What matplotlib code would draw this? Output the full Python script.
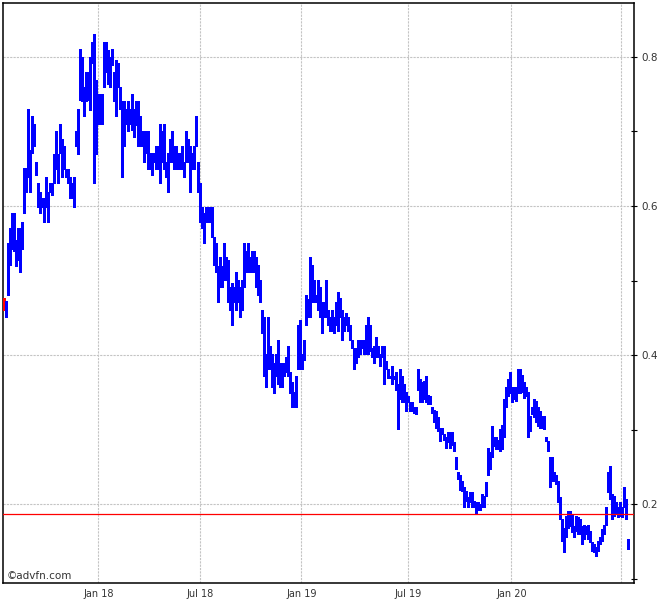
import numpy as np
import matplotlib
matplotlib.use('Agg')
import matplotlib.pyplot as plt

# bar highs / lows (oldest first)
highs = [
    0.476, 0.472, 0.551, 0.571, 0.591, 0.591, 0.555, 0.571, 0.571, 0.579,
    0.651, 0.651, 0.730, 0.675, 0.721, 0.710, 0.659, 0.631, 0.619, 0.611,
    0.611, 0.639, 0.619, 0.631, 0.631, 0.670, 0.701, 0.670, 0.710, 0.690,
    0.680, 0.650, 0.650, 0.639, 0.631, 0.639, 0.701, 0.730, 0.811, 0.800,
    0.760, 0.780, 0.780, 0.800, 0.820, 0.831, 0.769, 0.750, 0.750, 0.750,
    0.820, 0.820, 0.809, 0.800, 0.811, 0.780, 0.796, 0.792, 0.760, 0.740,
    0.740, 0.730, 0.740, 0.730, 0.750, 0.730, 0.740, 0.740, 0.720, 0.700,
    0.700, 0.700, 0.700, 0.671, 0.671, 0.671, 0.680, 0.680, 0.710, 0.700,
    0.710, 0.659, 0.671, 0.690, 0.700, 0.680, 0.680, 0.671, 0.671, 0.680,
    0.659, 0.700, 0.690, 0.680, 0.671, 0.680, 0.720, 0.659, 0.631, 0.599,
    0.590, 0.599, 0.599, 0.599, 0.599, 0.559, 0.551, 0.519, 0.531, 0.519,
    0.551, 0.531, 0.528, 0.491, 0.497, 0.491, 0.511, 0.501, 0.491, 0.501,
    0.551, 0.539, 0.551, 0.531, 0.539, 0.539, 0.531, 0.521, 0.501, 0.461,
    0.451, 0.401, 0.451, 0.412, 0.401, 0.390, 0.401, 0.421, 0.390, 0.390,
    0.390, 0.397, 0.412, 0.377, 0.364, 0.351, 0.372, 0.441, 0.447, 0.401,
    0.421, 0.481, 0.475, 0.531, 0.521, 0.501, 0.481, 0.501, 0.491, 0.471,
    0.471, 0.501, 0.461, 0.451, 0.461, 0.451, 0.471, 0.485, 0.477, 0.461,
    0.451, 0.457, 0.451, 0.441, 0.421, 0.410, 0.410, 0.421, 0.421, 0.421,
    0.421, 0.441, 0.451, 0.441, 0.410, 0.412, 0.425, 0.412, 0.401, 0.412,
    0.412, 0.392, 0.381, 0.372, 0.385, 0.372, 0.377, 0.361, 0.381, 0.372,
    0.361, 0.351, 0.345, 0.337, 0.337, 0.331, 0.330, 0.381, 0.368, 0.364,
    0.365, 0.372, 0.347, 0.345, 0.331, 0.327, 0.325, 0.317, 0.303, 0.303,
    0.294, 0.290, 0.297, 0.297, 0.297, 0.283, 0.264, 0.243, 0.240, 0.231,
    0.223, 0.218, 0.210, 0.216, 0.216, 0.204, 0.203, 0.203, 0.200, 0.214,
    0.211, 0.230, 0.276, 0.270, 0.305, 0.291, 0.291, 0.287, 0.301, 0.307,
    0.341, 0.357, 0.368, 0.377, 0.357, 0.357, 0.357, 0.381, 0.381, 0.374,
    0.364, 0.357, 0.351, 0.318, 0.331, 0.341, 0.338, 0.331, 0.325, 0.318,
    0.318, 0.291, 0.285, 0.263, 0.263, 0.243, 0.240, 0.231, 0.210, 0.180,
    0.169, 0.184, 0.191, 0.191, 0.187, 0.171, 0.184, 0.183, 0.180, 0.171,
    0.173, 0.171, 0.173, 0.164, 0.149, 0.147, 0.143, 0.151, 0.157, 0.167,
    0.173, 0.196, 0.243, 0.251, 0.214, 0.211, 0.203, 0.197, 0.203, 0.196,
    0.223, 0.207, 0.153,
]
lows = [
    0.460, 0.451, 0.481, 0.521, 0.542, 0.539, 0.519, 0.528, 0.511, 0.542,
    0.591, 0.619, 0.639, 0.619, 0.671, 0.680, 0.641, 0.599, 0.591, 0.599,
    0.579, 0.599, 0.579, 0.619, 0.615, 0.631, 0.649, 0.631, 0.671, 0.639,
    0.649, 0.639, 0.631, 0.611, 0.611, 0.599, 0.680, 0.669, 0.742, 0.740,
    0.720, 0.740, 0.742, 0.729, 0.792, 0.631, 0.669, 0.710, 0.710, 0.710,
    0.760, 0.780, 0.763, 0.760, 0.789, 0.740, 0.720, 0.760, 0.730, 0.639,
    0.680, 0.710, 0.700, 0.710, 0.702, 0.692, 0.709, 0.680, 0.680, 0.680,
    0.659, 0.671, 0.649, 0.649, 0.641, 0.659, 0.650, 0.650, 0.631, 0.659,
    0.650, 0.639, 0.619, 0.659, 0.659, 0.650, 0.650, 0.650, 0.650, 0.650,
    0.639, 0.659, 0.659, 0.619, 0.650, 0.650, 0.680, 0.619, 0.579, 0.571,
    0.551, 0.579, 0.579, 0.579, 0.559, 0.521, 0.511, 0.471, 0.492, 0.491,
    0.501, 0.501, 0.471, 0.461, 0.441, 0.471, 0.461, 0.471, 0.451, 0.461,
    0.491, 0.511, 0.511, 0.511, 0.511, 0.511, 0.492, 0.481, 0.471, 0.430,
    0.372, 0.358, 0.381, 0.381, 0.357, 0.350, 0.372, 0.361, 0.358, 0.358,
    0.372, 0.377, 0.372, 0.350, 0.330, 0.330, 0.330, 0.381, 0.381, 0.381,
    0.394, 0.441, 0.451, 0.451, 0.471, 0.471, 0.471, 0.461, 0.451, 0.430,
    0.451, 0.451, 0.441, 0.432, 0.432, 0.430, 0.441, 0.432, 0.451, 0.421,
    0.432, 0.441, 0.432, 0.421, 0.410, 0.381, 0.390, 0.398, 0.401, 0.410,
    0.401, 0.401, 0.401, 0.405, 0.398, 0.390, 0.398, 0.397, 0.385, 0.397,
    0.361, 0.381, 0.370, 0.370, 0.361, 0.368, 0.354, 0.301, 0.341, 0.337,
    0.337, 0.325, 0.337, 0.325, 0.325, 0.323, 0.321, 0.354, 0.337, 0.337,
    0.341, 0.337, 0.334, 0.334, 0.323, 0.311, 0.303, 0.298, 0.285, 0.294,
    0.287, 0.276, 0.283, 0.276, 0.280, 0.271, 0.247, 0.234, 0.220, 0.218,
    0.197, 0.204, 0.197, 0.203, 0.196, 0.196, 0.187, 0.193, 0.193, 0.196,
    0.196, 0.211, 0.240, 0.247, 0.264, 0.278, 0.274, 0.274, 0.271, 0.274,
    0.291, 0.331, 0.345, 0.350, 0.337, 0.341, 0.338, 0.350, 0.350, 0.351,
    0.343, 0.345, 0.291, 0.298, 0.321, 0.317, 0.310, 0.305, 0.303, 0.303,
    0.301, 0.285, 0.271, 0.223, 0.231, 0.231, 0.227, 0.203, 0.180, 0.151,
    0.136, 0.157, 0.169, 0.171, 0.163, 0.157, 0.164, 0.160, 0.160, 0.147,
    0.153, 0.160, 0.153, 0.149, 0.137, 0.136, 0.131, 0.137, 0.147, 0.151,
    0.160, 0.173, 0.216, 0.207, 0.180, 0.184, 0.187, 0.183, 0.184, 0.183,
    0.197, 0.180, 0.140,
]
last_price = 0.187

month_labels = ['Jan 18', 'Jul 18', 'Jan 19', 'Jul 19', 'Jan 20', '']
month_pos = [47.2, 98.2, 148.7, 201.8, 253.7, 308.7]  # bar index of month start
price_ticks = [0.2, 0.4, 0.6, 0.8]
minor_ticks = [0.1, 0.3, 0.5, 0.7]

idx = np.arange(len(highs))
colors = ['#ff0000'] + ['#0000ff'] * (len(highs) - 1)

fig = plt.figure(figsize=(6.7, 6.0), dpi=100)
ax = fig.add_axes([3 / 670, 17 / 600, 631 / 670, 580 / 600])

ax.vlines(idx, lows, highs, colors=colors, linewidth=1.0, antialiased=False, zorder=3)
ax.axhline(last_price, color='#ff0000', lw=0.9, zorder=4)

ax.set_xlim(-0.5, 315)
ax.set_ylim(0.0947, 0.872)

ax.set_xticks(month_pos)
ax.set_xticklabels(month_labels)
ax.yaxis.tick_right()
ax.set_yticks(price_ticks)
ax.set_yticklabels(['%.1f' % t for t in price_ticks])
ax.set_yticks(minor_ticks, minor=True)

ax.grid(True, which='major', color='#c4c4c4', linestyle=(0, (2, 1)), linewidth=0.8, zorder=0)
ax.tick_params(axis='x', length=0, pad=4, labelsize=7, labelcolor='#333333')
ax.tick_params(axis='y', which='both', direction='inout', length=4, width=0.8,
               pad=3, labelsize=7.5, labelcolor='#333333')
for s in ax.spines.values():
    s.set_linewidth(1.1)
    s.set_color('black')

ax.text(0.005, 0.012, '\u00a9advfn.com', transform=ax.transAxes, fontsize=7.5,
        color='#333333', va='center', ha='left')

plt.savefig('out.png', dpi=100)
